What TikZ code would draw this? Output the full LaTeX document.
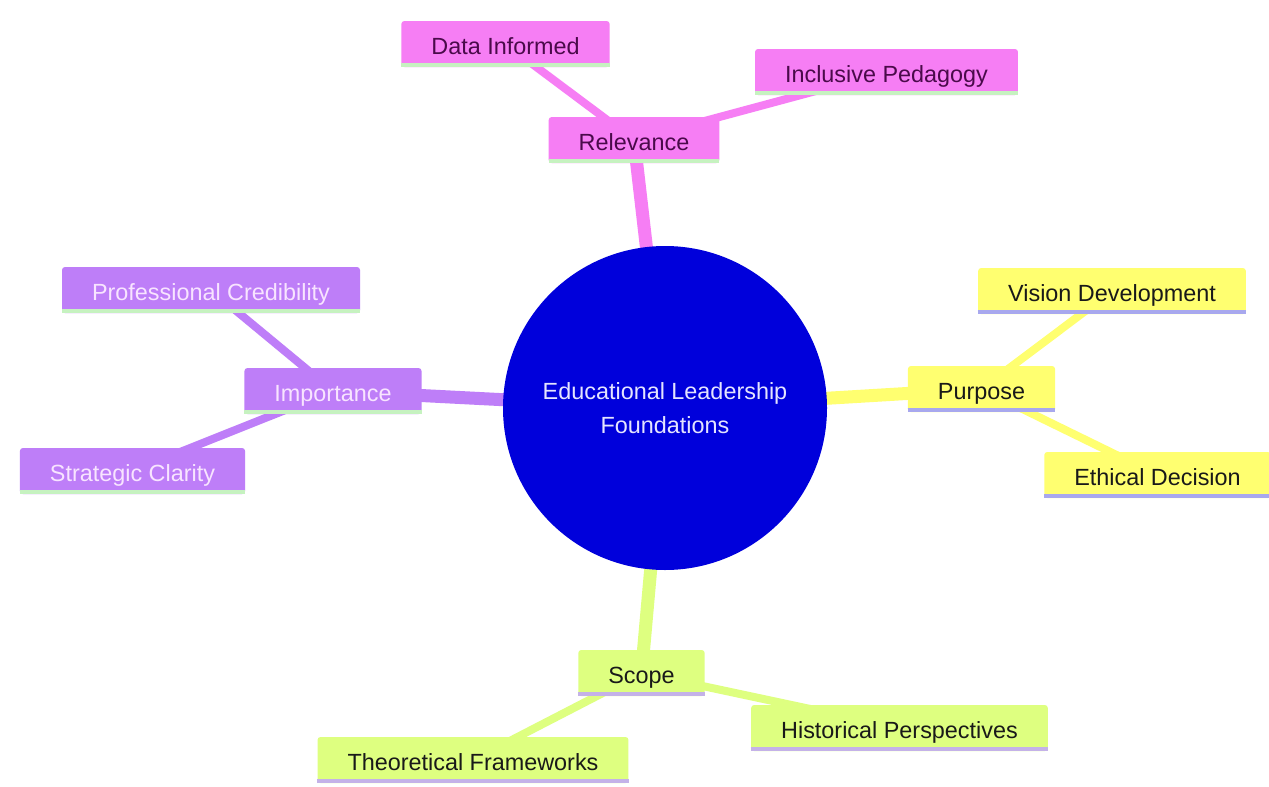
\documentclass[tikz,border=0pt]{standalone}
\usepackage{fontspec}
\setmainfont{Liberation Sans}
\usetikzlibrary{backgrounds}
\definecolor{cblue}{HTML}{0000DB}
\definecolor{cpink}{HTML}{F67EF4}
\definecolor{cpurple}{HTML}{BE7EF8}
\definecolor{cyellow}{HTML}{FFFF70}
\definecolor{clime}{HTML}{DEFF80}
\definecolor{sgreen}{HTML}{C6F2C0}
\definecolor{slav}{HTML}{A8A8EE}
\definecolor{slav2}{HTML}{C4B2E8}
\definecolor{tpink}{HTML}{4A0A4A}
\definecolor{tpurple}{HTML}{F8E4FF}
\definecolor{tcenter}{HTML}{E4E4FF}
\tikzset{
  box/.style={rectangle, rounded corners=3pt, minimum height=46pt, inner xsep=30pt,
    text height=21pt, text depth=1pt, font=\fontsize{23.4}{28}\selectfont},
  pinkbox/.style={box, fill=cpink, text=tpink},
  purplebox/.style={box, fill=cpurple, text=tpurple},
  yellowbox/.style={box, fill=cyellow, text=black!90},
  limebox/.style={box, fill=clime, text=black!90},
  mainedge/.style={line width=13pt},
  subedge/.style={line width=8pt},
  stripe/.style={line width=4pt}
}
\begin{document}
\begin{tikzpicture}[x=1pt,y=-1pt]
\useasboundingbox (0,0) rectangle (1269,787);
% root
\node[circle, fill=cblue, minimum size=324pt, inner sep=0pt, text=tcenter, align=center,
  font=\fontsize{23.4}{34}\selectfont] (root) at (665,408) {Educational Leadership\\Foundations};
% Relevance
\node[pinkbox] (rel) at (634,140) {Relevance};
\node[pinkbox] (data) at (505.5,44) {Data Informed};
\node[pinkbox] (incl) at (886.5,72) {Inclusive Pedagogy};
% Purpose
\node[yellowbox] (pur) at (981.5,389) {Purpose};
\node[yellowbox] (vis) at (1112,291) {Vision Development};
\node[yellowbox] (eth) at (1157.5,475) {Ethical Decision};
% Importance
\node[purplebox] (imp) at (333,391) {Importance};
\node[purplebox] (prof) at (211,290) {Professional Credibility};
\node[purplebox] (strat) at (132.5,471) {Strategic Clarity};
% Scope
\node[limebox] (scope) at (641.5,673) {Scope};
\node[limebox] (theo) at (473,760) {Theoretical Frameworks};
\node[limebox] (hist) at (899.5,728) {Historical Perspectives};
% stripes
\foreach \n/\c in {rel/sgreen,data/sgreen,incl/sgreen,imp/sgreen,prof/sgreen,strat/sgreen,
  pur/slav,vis/slav,eth/slav,scope/slav2,theo/slav2,hist/slav2}{
  \draw[stripe, \c] ([yshift=2pt]\n.south west) -- ([yshift=2pt]\n.south east);
}
\begin{scope}[on background layer]
\fill[white] (0,0) rectangle (1269,787);
\draw[mainedge, cpink] (root.center) -- (rel.center);
\draw[subedge, cpink] (rel.center) -- (data.center);
\draw[subedge, cpink] (rel.center) -- (incl.center);
\draw[mainedge, cyellow] (root.center) -- (pur.center);
\draw[subedge, cyellow] (pur.center) -- (vis.center);
\draw[subedge, cyellow] (pur.center) -- (eth.center);
\draw[mainedge, cpurple] (root.center) -- (imp.center);
\draw[subedge, cpurple] (imp.center) -- (prof.center);
\draw[subedge, cpurple] (imp.center) -- (strat.center);
\draw[mainedge, clime] (root.center) -- (scope.center);
\draw[subedge, clime] (scope.center) -- (theo.center);
\draw[subedge, clime] (scope.center) -- (hist.center);
\end{scope}
\end{tikzpicture}
\end{document}
